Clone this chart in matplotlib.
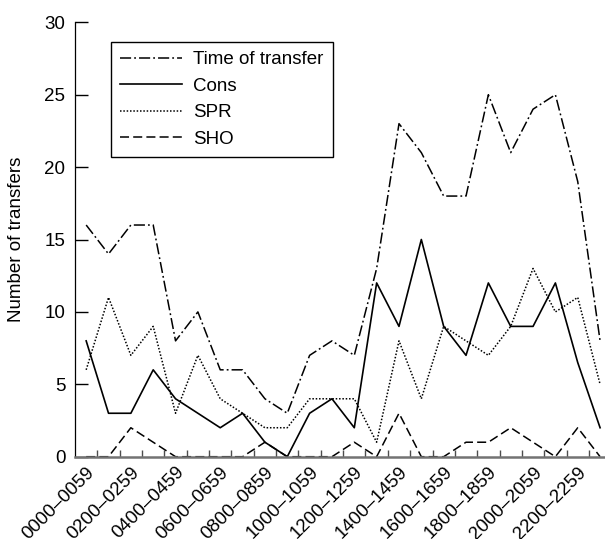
import matplotlib
matplotlib.use("Agg")
import matplotlib.pyplot as plt
import numpy as np

plt.rcParams['font.family'] = ['Liberation Sans', 'DejaVu Sans']
plt.rcParams['lines.scale_dashes'] = False

# hourly periods 0000-0059 ... 2300-2359
periods = ["%02d00–%02d59" % (h, h) for h in range(24)]

time_of_transfer = [16, 14, 16, 16, 8, 10, 6, 6, 4, 3, 7, 8,
                    7, 13, 23, 21, 18, 18, 25, 21, 24, 25, 19, 8]
cons = [8, 3, 3, 6, 4, 3, 2, 3, 1, 0, 3, 4,
        2, 12, 9, 15, 9, 7, 12, 9, 9, 12, 6.5, 2]
spr = [6, 11, 7, 9, 3, 7, 4, 3, 2, 2, 4, 4,
       4, 1, 8, 4, 9, 8, 7, 9, 13, 10, 11, 5]
sho = [0, 0, 2, 1, 0, 0, 0, 0, 1, 0, 0, 0,
       1, 0, 3, 0, 0, 1, 1, 2, 1, 0, 2, 0]

x = np.arange(len(periods))

fig = plt.figure(figsize=(6.05, 5.39), dpi=100)
ax = fig.add_axes([75/605, 82.3/539, 530/605, 434.4/539])

ax.plot(x, time_of_transfer, color="black", lw=1.1,
        linestyle=(0, (8, 2.2, 1.3, 2.2)), label="Time of transfer")
ax.plot(x, cons, color="black", lw=1.2, linestyle="-", label="Cons")
ax.plot(x, spr, color="black", lw=1.1, linestyle=(0, (1.1, 1.3)), label="SPR")
ax.plot(x, sho, color="black", lw=1.1, linestyle=(0, (6.5, 3)), label="SHO")

ax.set_xlim(-0.5, 23.22)
ax.set_ylim(0, 30)
ax.set_yticks(np.arange(0, 31, 5))
ax.tick_params(axis="y", direction="in", length=9.5, width=1, pad=7, labelsize=13.5)

ax.set_xticks(x[::2])
ax.set_xticklabels(periods[::2], rotation=45, ha="right", va="top",
                   rotation_mode="anchor", fontsize=13.5)
ax.set_xticks(x[:-1] + 0.5, minor=True)
ax.tick_params(axis="x", which="major", length=0, pad=5)
ax.tick_params(axis="x", which="minor", direction="in", length=5, width=1, color="0.3")

ax.spines["top"].set_visible(False)
ax.spines["right"].set_visible(False)
ax.spines["left"].set_linewidth(0.9)
ax.spines["bottom"].set_linewidth(1.8)
ax.spines["bottom"].set_color("0.45")

ax.set_ylabel("Number of transfers", fontsize=13.5, labelpad=14)

leg = ax.legend(loc="upper left", bbox_to_anchor=(0.067, 0.955), borderaxespad=0,
                fancybox=False, edgecolor="black", fontsize=13.5, handlelength=3.3,
                handletextpad=0.6, borderpad=0.5, labelspacing=0.5)
leg.get_frame().set_linewidth(1.0)
leg.get_frame().set_alpha(1)

fig.savefig("out.png", dpi=100)
plt.close(fig)
